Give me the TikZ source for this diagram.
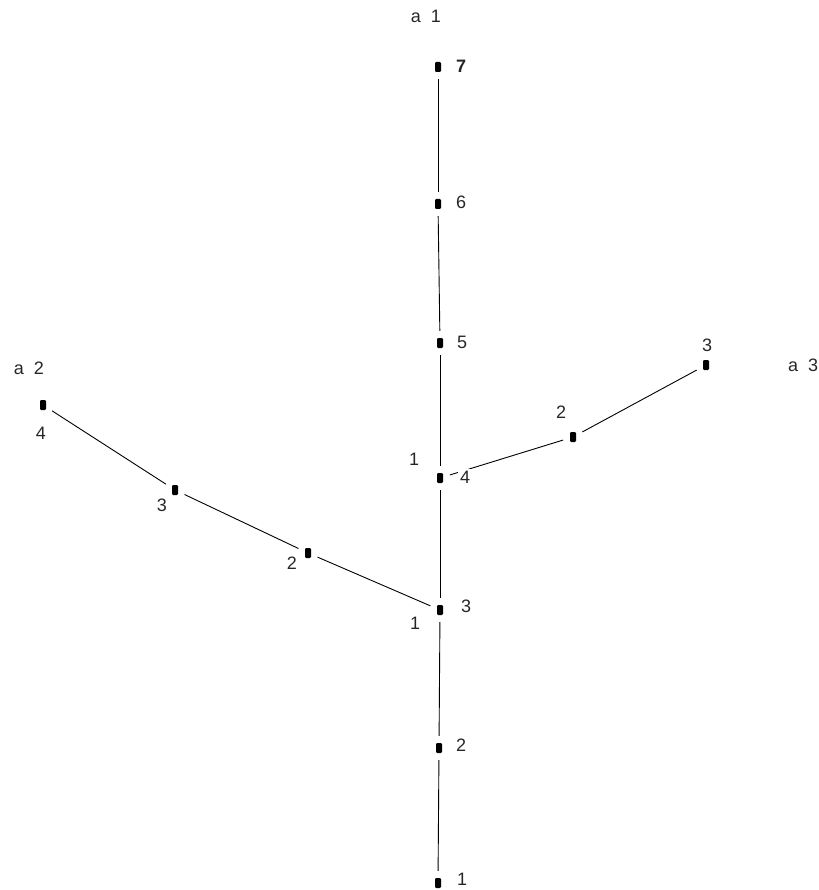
\documentclass[tikz,border=0pt]{standalone}
\usepackage{fontspec}
\setmainfont{Liberation Sans}
\begin{document}
\begin{tikzpicture}[x=1pt,y=-1pt,
  pt/.style={fill=black,draw=none,rounded corners=1.2pt,minimum width=6pt,minimum height=10pt,inner sep=0pt},
  lab/.style={font=\fontsize{18}{18}\selectfont,inner sep=1pt,text=black!85},
  edge/.style={line width=0.9pt,shorten >=7pt,shorten <=7pt}]
\useasboundingbox (0,0) rectangle (818,890);
% trunk a1
\node[pt] (a1n1) at (438,883) {};
\node[pt] (a1n2) at (439,748) {};
\node[pt] (a1n3) at (440,610) {};
\node[pt] (a1n4) at (440,478) {};
\node[pt] (a1n5) at (440,343) {};
\node[pt] (a1n6) at (438,204) {};
\node[pt] (a1n7) at (438,67) {};
% branch a2
\node[pt] (a2n2) at (308,553) {};
\node[pt] (a2n3) at (175,490) {};
\node[pt] (a2n4) at (43,405) {};
% branch a3
\node[pt] (a3n2) at (573,437) {};
\node[pt] (a3n3) at (706,365) {};
% edges
\draw[edge] (a1n1) -- (a1n2);
\draw[edge] (a1n2) -- (a1n3);
\draw[edge] (a1n3) -- (a1n4);
\draw[edge] (a1n4) -- (a1n5);
\draw[edge] (a1n5) -- (a1n6);
\draw[edge] (a1n6) -- (a1n7);
\draw[edge] (a1n3) -- (a2n2);
\draw[edge] (a2n2) -- (a2n3);
\draw[edge] (a2n3) -- (a2n4);
\draw[edge] (a1n4) -- (a3n2);
\draw[edge] (a3n2) -- (a3n3);
% labels trunk
\node[lab] (la1) at (426,16) {a\ \ 1};
\node[lab] (l7) at (461,66) {\bfseries 7};
\node[lab] (l6) at (461,202) {6};
\node[lab] (l5) at (462,342) {5};
\node[lab,fill=white,inner sep=2pt] (l4) at (465,477) {4};
\node[lab] (l3) at (466,606) {3};
\node[lab] (l2) at (461,745) {2};
\node[lab] (l1) at (462,879) {1};
% labels a2
\node[lab] (la2) at (29,368) {a\ \ 2};
\node[lab] (b4) at (41,433) {4};
\node[lab] (b3) at (162,505) {3};
\node[lab] (b2) at (292,563) {2};
\node[lab] (b1) at (415,623) {1};
% labels a3
\node[lab] (la3) at (803,365) {a\ \ 3};
\node[lab] (c1) at (414,459) {1};
\node[lab] (c2) at (561,412) {2};
\node[lab] (c3) at (707,345) {3};
\end{tikzpicture}
\end{document}
